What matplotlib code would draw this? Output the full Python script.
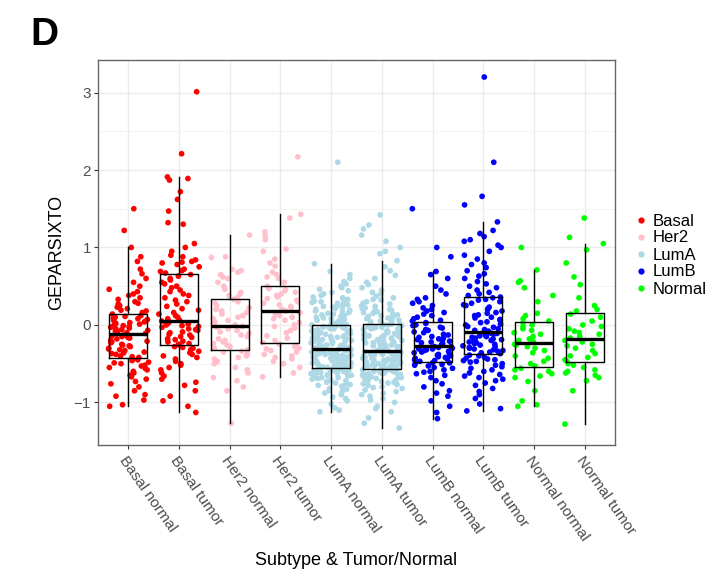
import numpy as np
import matplotlib
matplotlib.use("Agg")
import matplotlib.pyplot as plt
from matplotlib.lines import Line2D

plt.rcParams['font.family'] = ['Liberation Sans', 'DejaVu Sans']

categories = ["Basal normal", "Basal tumor", "Her2 normal", "Her2 tumor",
              "LumA normal", "LumA tumor", "LumB normal", "LumB tumor",
              "Normal normal", "Normal tumor"]
subtype_of = ["Basal", "Basal", "Her2", "Her2", "LumA", "LumA", "LumB", "LumB", "Normal", "Normal"]
subtypes = ["Basal", "Her2", "LumA", "LumB", "Normal"]
colors = {"Basal": "#FF0000", "Her2": "#FFC0CB", "LumA": "#ADD8E6", "LumB": "#0000FF", "Normal": "#00FF00"}

basal_normal = [-1.05,-1.03,-0.97,-0.92,-0.9,-0.85,-0.8,-0.76,-0.73,-0.7,-0.67,-0.65,-0.62,-0.6,-0.58,-0.56,-0.55,-0.53,-0.52,-0.5,-0.49,-0.48,-0.46,-0.45,-0.44,
                -0.42,-0.41,-0.4,-0.38,-0.37,-0.36,-0.35,-0.33,-0.32,-0.31,-0.3,-0.28,-0.27,-0.26,-0.25,-0.23,-0.22,-0.21,-0.2,-0.18,-0.17,-0.16,-0.15,-0.14,-0.13,
                -0.11,-0.1,-0.09,-0.08,-0.07,-0.06,-0.05,-0.04,-0.03,-0.02,-0.01,0.0,0.01,0.02,0.03,0.04,0.05,0.06,0.07,0.08,0.09,0.1,0.11,0.12,0.14,
                0.16,0.18,0.19,0.21,0.23,0.25,0.27,0.28,0.3,0.33,0.35,0.38,0.4,0.43,0.46,0.5,0.55,0.6,0.66,0.72,0.82,0.88,1.0,1.22,1.5]
basal_tumor = [-1.13,-1.05,-0.98,-0.92,-0.85,-0.78,-0.74,-0.7,-0.66,-0.62,-0.58,-0.55,-0.52,-0.5,-0.47,-0.44,-0.42,-0.4,-0.38,-0.36,-0.34,-0.32,-0.3,-0.29,-0.28,
               -0.26,-0.25,-0.24,-0.22,-0.21,-0.19,-0.18,-0.16,-0.15,-0.13,-0.12,-0.1,-0.09,-0.07,-0.06,-0.05,-0.03,-0.02,-0.01,0.0,0.01,0.02,0.03,0.04,0.05,
               0.06,0.08,0.1,0.12,0.14,0.16,0.19,0.21,0.24,0.27,0.3,0.32,0.35,0.38,0.4,0.43,0.45,0.48,0.5,0.53,0.55,0.58,0.6,0.63,0.65,
               0.67,0.69,0.7,0.72,0.75,0.78,0.8,0.81,0.82,0.84,0.88,0.9,0.95,1.0,1.05,1.3,1.32,1.47,1.62,1.72,1.87,1.89,1.91,2.21,3.01]
her2_normal = [-1.27,-0.85,-0.8,-0.72,-0.68,-0.62,-0.58,-0.55,-0.5,-0.47,-0.44,-0.42,-0.4,-0.37,-0.35,-0.34,
               -0.32,-0.3,-0.28,-0.26,-0.24,-0.22,-0.2,-0.18,-0.15,-0.13,-0.11,-0.09,-0.07,-0.05,-0.03,-0.02,
               0.0,0.02,0.04,0.06,0.08,0.1,0.12,0.14,0.16,0.18,0.2,0.22,0.25,0.28,0.3,0.33,
               0.35,0.38,0.4,0.42,0.46,0.5,0.55,0.6,0.62,0.65,0.68,0.7,0.72,0.87,0.88,1.16]
her2_tumor = [-0.67,-0.62,-0.55,-0.5,-0.47,-0.44,-0.42,-0.4,-0.38,-0.35,-0.33,-0.31,-0.3,-0.28,-0.26,-0.25,
              -0.23,-0.2,-0.17,-0.14,-0.1,-0.07,-0.04,-0.02,0.0,0.03,0.06,0.08,0.1,0.12,0.14,0.16,
              0.18,0.2,0.22,0.24,0.26,0.28,0.3,0.32,0.34,0.36,0.38,0.4,0.42,0.44,0.46,0.47,
              0.5,0.55,0.6,0.62,0.65,0.68,0.76,0.8,0.85,0.95,0.98,1.1,1.15,1.2,1.38,1.43,2.17]
luma_normal = [-1.12,-1.1,-1.07,-1.02,-0.98,-0.95,-0.93,-0.9,-0.88,-0.86,-0.85,-0.83,-0.82,-0.8,-0.79,-0.78,-0.77,-0.76,-0.75,-0.74,-0.73,-0.72,-0.71,-0.7,-0.69,
               -0.68,-0.68,-0.67,-0.66,-0.65,-0.65,-0.64,-0.63,-0.63,-0.62,-0.62,-0.61,-0.61,-0.6,-0.6,-0.59,-0.59,-0.58,-0.58,-0.58,-0.57,-0.57,-0.57,-0.56,-0.56,
               -0.55,-0.55,-0.54,-0.54,-0.53,-0.53,-0.52,-0.52,-0.51,-0.51,-0.5,-0.5,-0.49,-0.49,-0.48,-0.48,-0.47,-0.47,-0.46,-0.46,-0.45,-0.45,-0.44,-0.44,-0.43,
               -0.43,-0.42,-0.42,-0.41,-0.41,-0.4,-0.4,-0.39,-0.39,-0.38,-0.38,-0.37,-0.37,-0.36,-0.36,-0.35,-0.35,-0.34,-0.34,-0.33,-0.33,-0.32,-0.32,-0.31,-0.31,
               -0.3,-0.29,-0.29,-0.28,-0.27,-0.27,-0.26,-0.25,-0.25,-0.24,-0.23,-0.23,-0.22,-0.21,-0.21,-0.2,-0.19,-0.19,-0.18,-0.17,-0.17,-0.16,-0.15,-0.15,-0.14,
               -0.13,-0.13,-0.12,-0.11,-0.11,-0.1,-0.09,-0.09,-0.08,-0.07,-0.07,-0.06,-0.05,-0.05,-0.04,-0.04,-0.03,-0.03,-0.02,-0.02,-0.01,-0.01,0.0,0.0,0.0,
               0.01,0.02,0.03,0.04,0.05,0.06,0.07,0.08,0.09,0.1,0.11,0.12,0.13,0.14,0.15,0.16,0.17,0.18,0.19,0.2,0.21,0.22,0.23,0.24,0.25,
               0.26,0.27,0.28,0.29,0.3,0.31,0.32,0.33,0.34,0.35,0.36,0.38,0.4,0.42,0.44,0.46,0.48,0.5,0.53,0.56,0.6,0.65,0.69,0.79,2.1]
luma_tumor = [-1.33,-1.27,-1.2,-1.12,-1.08,-1.05,-1.0,-0.97,-0.95,-0.92,-0.9,-0.88,-0.86,-0.84,-0.82,-0.81,-0.8,-0.78,-0.77,-0.76,-0.75,-0.74,-0.73,-0.72,-0.71,
              -0.7,-0.69,-0.68,-0.67,-0.67,-0.66,-0.65,-0.65,-0.64,-0.63,-0.63,-0.62,-0.62,-0.61,-0.61,-0.6,-0.6,-0.59,-0.59,-0.59,-0.58,-0.58,-0.58,-0.57,-0.57,
              -0.56,-0.56,-0.55,-0.55,-0.55,-0.54,-0.54,-0.53,-0.53,-0.52,-0.52,-0.51,-0.51,-0.5,-0.5,-0.49,-0.49,-0.48,-0.48,-0.47,-0.47,-0.46,-0.46,-0.45,-0.45,
              -0.44,-0.44,-0.43,-0.43,-0.42,-0.42,-0.41,-0.41,-0.4,-0.4,-0.39,-0.39,-0.38,-0.38,-0.37,-0.37,-0.37,-0.36,-0.36,-0.36,-0.35,-0.35,-0.35,-0.34,-0.34,
              -0.33,-0.32,-0.32,-0.31,-0.3,-0.29,-0.29,-0.28,-0.27,-0.26,-0.26,-0.25,-0.24,-0.23,-0.23,-0.22,-0.21,-0.2,-0.2,-0.19,-0.18,-0.17,-0.17,-0.16,-0.15,
              -0.14,-0.14,-0.13,-0.12,-0.11,-0.11,-0.1,-0.09,-0.08,-0.08,-0.07,-0.06,-0.05,-0.05,-0.04,-0.03,-0.03,-0.02,-0.02,-0.01,-0.01,0.0,0.0,0.01,0.01,
              0.02,0.03,0.04,0.05,0.06,0.07,0.08,0.09,0.1,0.11,0.12,0.13,0.14,0.15,0.16,0.17,0.18,0.19,0.2,0.21,0.22,0.23,0.24,0.25,0.27,
              0.28,0.3,0.32,0.33,0.35,0.37,0.4,0.42,0.45,0.48,0.52,0.55,0.6,0.64,0.7,0.75,0.83,0.92,0.95,1.0,1.08,1.16,1.24,1.29,1.42]
lumb_normal = [-1.21,-1.13,-1.05,-0.98,-0.92,-0.88,-0.85,-0.8,-0.76,-0.72,-0.68,-0.65,-0.63,-0.61,-0.6,-0.58,-0.56,-0.55,-0.53,-0.52,-0.51,-0.5,-0.49,-0.49,
               -0.47,-0.46,-0.45,-0.44,-0.43,-0.42,-0.41,-0.4,-0.39,-0.38,-0.37,-0.36,-0.35,-0.34,-0.33,-0.32,-0.31,-0.31,-0.3,-0.3,-0.29,-0.29,-0.28,-0.28,
               -0.26,-0.25,-0.24,-0.23,-0.22,-0.21,-0.2,-0.19,-0.18,-0.17,-0.16,-0.15,-0.13,-0.12,-0.1,-0.09,-0.07,-0.06,-0.04,-0.03,-0.01,0.0,0.02,0.03,
               0.05,0.06,0.08,0.1,0.12,0.14,0.16,0.18,0.2,0.22,0.25,0.28,0.3,0.33,0.35,0.4,0.45,0.5,0.6,0.65,0.69,0.88,1.0,1.5]
lumb_tumor = [-1.11,-1.08,-1.02,-0.95,-0.9,-0.86,-0.82,-0.78,-0.75,-0.72,-0.7,-0.68,-0.66,-0.64,-0.62,-0.6,-0.58,-0.56,-0.54,-0.52,-0.5,-0.48,-0.47,-0.46,-0.45,-0.44,-0.43,-0.42,-0.4,-0.39,
              -0.37,-0.36,-0.35,-0.34,-0.33,-0.32,-0.31,-0.3,-0.29,-0.28,-0.27,-0.26,-0.25,-0.24,-0.23,-0.22,-0.21,-0.2,-0.19,-0.18,-0.17,-0.16,-0.15,-0.14,-0.13,-0.12,-0.11,-0.11,-0.1,-0.1,
              -0.08,-0.07,-0.06,-0.05,-0.03,-0.02,0.0,0.01,0.03,0.04,0.06,0.07,0.09,0.1,0.12,0.13,0.15,0.16,0.18,0.2,0.21,0.23,0.25,0.26,0.28,0.3,0.32,0.33,0.35,0.36,
              0.38,0.4,0.42,0.45,0.48,0.5,0.53,0.56,0.6,0.63,0.66,0.7,0.74,0.78,0.8,0.85,0.9,0.95,1.0,1.03,1.08,1.1,1.14,1.18,1.22,1.33,1.55,1.66,2.1,3.2]
normal_normal = [-1.05,-1.03,-0.98,-0.85,-0.73,-0.68,-0.66,-0.63,-0.6,-0.58,-0.56,
                 -0.53,-0.5,-0.47,-0.43,-0.4,-0.36,-0.33,-0.3,-0.28,-0.26,-0.25,
                 -0.22,-0.2,-0.18,-0.15,-0.12,-0.1,-0.07,-0.05,-0.02,0.0,0.03,
                 0.05,0.08,0.12,0.15,0.3,0.38,0.48,0.55,0.57,0.71,1.0]
normal_tumor = [-1.28,-0.85,-0.72,-0.68,-0.65,-0.62,-0.6,-0.58,-0.55,-0.52,-0.5,
                -0.47,-0.45,-0.42,-0.4,-0.37,-0.33,-0.3,-0.27,-0.25,-0.22,-0.2,
                -0.17,-0.15,-0.12,-0.1,-0.08,-0.05,-0.02,0.0,0.05,0.1,0.14,
                0.18,0.2,0.25,0.35,0.52,0.62,0.8,0.97,1.05,1.13,1.38]

groups = [basal_normal, basal_tumor, her2_normal, her2_tumor, luma_normal,
          luma_tumor, lumb_normal, lumb_tumor, normal_normal, normal_tumor]

fig = plt.figure(figsize=(7.12, 5.78), dpi=100)
ax = fig.add_axes([98/712, 1-445/578, (615-98)/712, (445-60)/578])

positions = np.arange(1, len(categories) + 1)
for k, (pos, vals, st) in enumerate(zip(positions, groups, subtype_of)):
    vals = np.asarray(vals)
    n = len(vals)
    idx = np.arange(n) + 101 * (k + 1)
    h = np.sin(idx * 12.9898 + 78.233) * 43758.5453
    frac = h - np.floor(h)
    jit = (frac - 0.5) * 0.8
    ax.scatter(pos + jit, vals, s=17, color=colors[st], edgecolors='none', zorder=2)

ax.boxplot(groups, positions=positions, widths=0.75, whis=1.5, showfliers=False,
           patch_artist=False, manage_ticks=False,
           boxprops=dict(color='black', linewidth=1.0),
           whiskerprops=dict(color='black', linewidth=1.0),
           capprops=dict(linewidth=0),
           medianprops=dict(color='black', linewidth=2.4),
           zorder=3)

ax.set_xlim(0.4, 10.6)
ax.set_ylim(-1.55, 3.42)
ax.set_yticks([-1, 0, 1, 2, 3])
ax.set_yticks([-0.5, 0.5, 1.5, 2.5], minor=True)
ax.set_xticks(positions)
ax.set_xticklabels(categories, rotation=-55, ha='left', va='top', rotation_mode='anchor',
                   fontsize=11, color='#4D4D4D')
ax.tick_params(axis='y', labelsize=11, labelcolor='#4D4D4D', pad=2)
ax.tick_params(axis='both', which='major', length=3, color='#333333', width=0.8)
ax.tick_params(axis='y', which='minor', length=0)
ax.grid(True, which='major', color='#EBEBEB', linewidth=1.0, zorder=0)
ax.grid(True, which='minor', axis='y', color='#F4F4F4', linewidth=0.8, zorder=0)
ax.set_axisbelow(True)
for sp in ax.spines.values():
    sp.set_color('#666666')
    sp.set_linewidth(1.0)

ax.set_ylabel("GEPARSIXTO", fontsize=13, labelpad=6)
ax.set_xlabel("Subtype & Tumor/Normal", fontsize=13, labelpad=6)

handles = [Line2D([0], [0], marker='o', linestyle='none', markersize=4.5,
                  markerfacecolor=colors[s], markeredgecolor='none') for s in subtypes]
fig.legend(handles, subtypes, loc='center left', bbox_to_anchor=(633/712, 1-255/578),
           frameon=False, fontsize=12, handletextpad=0.2, labelspacing=0.12,
           handlelength=1.0, borderaxespad=0, borderpad=0)

fig.text(30/712, 1-35/578, "D", fontsize=28, fontweight='bold', ha='left', va='center')

fig.savefig("out.png", dpi=100)
